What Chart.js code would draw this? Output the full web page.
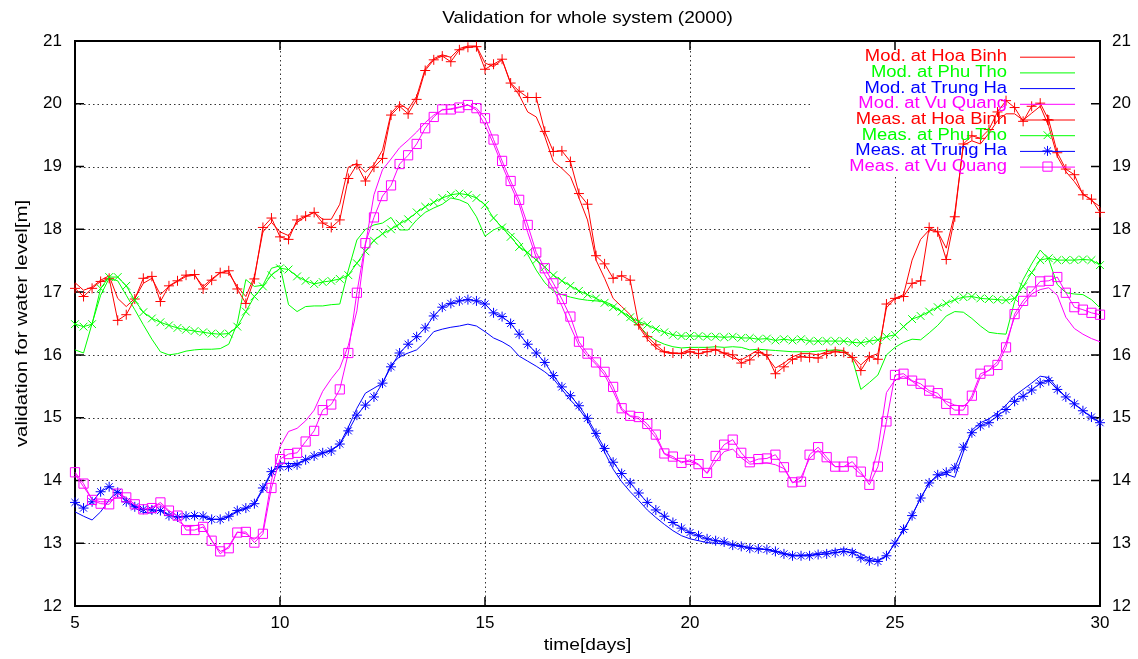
<!DOCTYPE html>
<html lang="en">
<head>
<meta charset="UTF-8">
<title>Validation for whole system (2000)</title>
<script src="https://cdn.jsdelivr.net/npm/chart.js"></script>
<style>
  body { margin: 0; background: #fff; }
</style>
</head>
<body>
<canvas id="levelChart" width="1138" height="659"></canvas>
<script>
// one sample every 5 hours, day 5 .. day 30
const STEP_HOURS = 5;
const days = [];
for (let h = 0; h <= 600; h += STEP_HOURS) days.push(5 + h / 24);

const yTicks = [12, 13, 14, 15, 16, 17, 18, 19, 20, 21];
const xTicks = [5, 10, 15, 20, 25, 30];

// model results [m]
const modHoaBinh = [
  17.15, 17.03, 17.08, 17.19, 17.26, 16.90, 16.77, 16.90, 17.14, 17.22,
  16.96, 17.09, 17.17, 17.25, 17.27, 17.09, 17.21, 17.31, 17.30, 17.09,
  16.93, 17.25, 17.96, 18.11, 17.96, 17.90, 18.11, 18.20, 18.27, 18.16,
  18.16, 18.40, 18.99, 19.05, 18.91, 19.03, 19.26, 19.85, 20.00, 19.91,
  20.12, 20.56, 20.72, 20.78, 20.74, 20.88, 20.92, 20.92, 20.65, 20.59,
  20.70, 20.32, 20.14, 19.87, 19.79, 19.48, 19.08, 18.97, 18.84, 18.50,
  18.15, 17.51, 17.22, 16.90, 16.77, 16.64, 16.45, 16.25, 16.11, 16.04,
  16.02, 16.03, 16.09, 16.08, 16.09, 16.09, 16.02, 15.95, 15.92, 16.00,
  16.08, 15.97, 15.79, 15.87, 15.97, 16.02, 16.02, 16.00, 16.05, 16.08,
  16.07, 15.97, 15.84, 15.97, 16.02, 16.75, 16.90, 16.96, 17.51, 17.84,
  17.99, 17.96, 17.70, 18.26, 19.34, 19.41, 19.36, 19.53, 19.73, 19.84,
  19.84, 19.74, 19.85, 19.96, 19.64, 19.16, 18.92, 18.76, 18.57, 18.46,
  18.36
];
const modPhuTho = [
  16.08, 16.03, 16.50, 16.95, 17.22, 17.18, 16.95, 16.72, 16.48, 16.25,
  16.05, 16.00, 16.02, 16.06, 16.08, 16.09, 16.09, 16.10, 16.17, 16.50,
  17.20, 17.09, 17.11, 17.38, 17.42, 16.80, 16.69, 16.77, 16.78, 16.78,
  16.80, 16.81, 17.35, 17.83, 18.00, 18.07, 18.10, 18.19, 17.99, 17.99,
  18.15, 18.27, 18.34, 18.40, 18.50, 18.47, 18.41, 18.20, 17.89, 17.99,
  18.05, 17.93, 17.80, 17.60, 17.35, 17.15, 17.02, 16.96, 16.92, 16.89,
  16.87, 16.86, 16.85, 16.79, 16.68, 16.56, 16.47, 16.32, 16.23, 16.17,
  16.13, 16.11, 16.12, 16.12, 16.12, 16.13, 16.12, 16.13, 16.12, 16.08,
  16.09, 16.08, 16.07, 16.06, 16.05, 16.05, 16.05, 16.06, 16.07, 16.08,
  16.06, 15.94, 15.45, 15.56, 15.68, 16.00, 16.12, 16.20, 16.25, 16.24,
  16.35, 16.47, 16.62, 16.69, 16.68, 16.58, 16.46, 16.36, 16.34, 16.33,
  16.85, 17.20, 17.45, 17.67, 17.52, 17.12, 16.99, 16.97, 16.96, 16.88,
  16.75
];
const modTrungHa = [
  13.50, 13.43, 13.37, 13.50, 13.69, 13.84, 13.69, 13.56, 13.49, 13.48,
  13.54, 13.45, 13.41, 13.42, 13.43, 13.42, 13.38, 13.38, 13.42, 13.50,
  13.55, 13.62, 13.85, 14.12, 14.28, 14.27, 14.27, 14.33, 14.39, 14.43,
  14.49, 14.58, 14.85, 15.15, 15.39, 15.47, 15.55, 15.84, 15.97, 16.03,
  16.08, 16.21, 16.37, 16.41, 16.44, 16.46, 16.49, 16.46, 16.37, 16.27,
  16.21, 16.13, 15.98, 15.90, 15.82, 15.73, 15.62, 15.45, 15.28, 15.14,
  14.95, 14.70, 14.45, 14.18, 13.98, 13.82, 13.68, 13.53, 13.41, 13.30,
  13.20, 13.12, 13.07, 13.04, 13.01, 13.00, 12.99, 12.98, 12.96, 12.93,
  12.91, 12.90, 12.87, 12.84, 12.81, 12.81, 12.82, 12.84, 12.86, 12.89,
  12.91, 12.89, 12.83, 12.76, 12.73, 12.80, 13.00, 13.20, 13.45, 13.72,
  13.95, 14.07, 14.10, 14.05, 14.45, 14.80, 14.92, 14.98, 15.08, 15.20,
  15.35, 15.45, 15.55, 15.66, 15.64, 15.47, 15.33, 15.22, 15.11, 15.01,
  14.92
];
const modVuQuang = [
  14.10, 13.90, 13.70, 13.66, 13.66, 13.74, 13.70, 13.60, 13.52, 13.58,
  13.62, 13.50, 13.36, 13.26, 13.28, 13.30, 13.05, 12.83, 12.95, 13.18,
  13.15, 13.06, 13.20, 14.00, 14.54, 14.78, 14.83, 14.95, 15.12, 15.42,
  15.62, 15.79, 16.15, 16.70, 17.75, 18.55, 18.95, 19.12, 19.30, 19.42,
  19.55, 19.70, 19.82, 19.90, 19.92, 19.95, 19.98, 19.90, 19.66, 19.36,
  19.02, 18.70, 18.40, 17.95, 17.55, 17.28, 17.05, 16.78, 16.45, 16.15,
  15.98, 15.85, 15.68, 15.42, 15.12, 15.02, 14.98, 14.85, 14.68, 14.42,
  14.35, 14.30, 14.30, 14.25, 14.11, 14.30, 14.46, 14.50, 14.36, 14.26,
  14.27, 14.28, 14.25, 14.19, 13.96, 14.05, 14.35, 14.48, 14.32, 14.22,
  14.22, 14.22, 14.10, 13.98, 14.50, 15.40, 15.60, 15.66, 15.58, 15.48,
  15.40, 15.33, 15.26, 15.20, 15.18, 15.30, 15.65, 15.76, 15.89, 16.19,
  16.60, 16.80, 16.97, 17.04, 17.07, 16.95, 16.60, 16.42, 16.33, 16.26,
  16.21
];

// measured levels [m]
const measHoaBinh = [
  17.06, 16.93, 17.06, 17.17, 17.22, 16.55, 16.64, 16.89, 17.22, 17.25,
  16.85, 17.10, 17.18, 17.27, 17.28, 17.05, 17.19, 17.31, 17.34, 17.05,
  16.82, 17.21, 18.03, 18.18, 17.88, 17.84, 18.15, 18.21, 18.27, 18.10,
  18.03, 18.15, 18.81, 19.03, 18.77, 18.99, 19.13, 19.82, 19.96, 19.84,
  20.07, 20.53, 20.70, 20.76, 20.67, 20.86, 20.90, 20.91, 20.55, 20.63,
  20.71, 20.33, 20.20, 20.10, 20.10, 19.56, 19.24, 19.25, 19.08, 18.57,
  18.40, 17.58, 17.45, 17.22, 17.26, 17.19, 16.48, 16.29, 16.16, 16.05,
  16.03, 16.02, 16.05, 16.02, 16.05, 16.08, 16.03, 16.00, 15.87, 15.92,
  16.04, 16.00, 15.70, 15.81, 15.93, 15.97, 15.96, 15.95, 16.02, 16.05,
  16.04, 15.96, 15.75, 15.97, 15.93, 16.81, 16.90, 16.93, 17.14, 17.18,
  18.03, 17.96, 17.52, 18.20, 19.36, 19.49, 19.45, 19.59, 19.87, 20.05,
  19.94, 19.72, 19.96, 20.01, 19.74, 19.22, 18.96, 18.87, 18.55, 18.48,
  18.27
];
const measPhuTho = [
  16.49, 16.45, 16.49, 17.06, 17.24, 17.24, 17.10, 16.87, 16.68, 16.58,
  16.52, 16.47, 16.43, 16.40, 16.38, 16.36, 16.34, 16.33, 16.34, 16.45,
  16.69, 16.93, 17.09, 17.27, 17.38, 17.36, 17.25, 17.18, 17.13, 17.16,
  17.18, 17.21, 17.27, 17.46, 17.65, 17.82, 17.93, 18.00, 18.09, 18.16,
  18.27, 18.36, 18.43, 18.50, 18.55, 18.57, 18.55, 18.50, 18.39, 18.18,
  18.03, 17.88, 17.72, 17.63, 17.51, 17.40, 17.27, 17.18, 17.10, 17.02,
  16.96, 16.90, 16.83, 16.76, 16.69, 16.60, 16.53, 16.48, 16.41, 16.36,
  16.32, 16.30, 16.30, 16.30, 16.29, 16.29, 16.28, 16.29, 16.27, 16.27,
  16.25, 16.26, 16.23, 16.25, 16.23, 16.25, 16.22, 16.22, 16.22, 16.22,
  16.22, 16.20, 16.19, 16.22, 16.24, 16.29, 16.32, 16.45, 16.57, 16.62,
  16.69, 16.76, 16.82, 16.88, 16.92, 16.93, 16.90, 16.89, 16.88, 16.87,
  16.90, 17.09, 17.31, 17.51, 17.54, 17.51, 17.51, 17.51, 17.52, 17.51,
  17.43
];
const measTrungHa = [
  13.65, 13.56, 13.66, 13.82, 13.90, 13.81, 13.66, 13.58, 13.54, 13.53,
  13.52, 13.44, 13.42, 13.43, 13.44, 13.43, 13.38, 13.38, 13.43, 13.52,
  13.56, 13.63, 13.88, 14.14, 14.22, 14.22, 14.25, 14.33, 14.39, 14.44,
  14.47, 14.58, 14.79, 15.04, 15.20, 15.33, 15.55, 15.81, 16.03, 16.17,
  16.29, 16.43, 16.62, 16.76, 16.82, 16.86, 16.88, 16.86, 16.81, 16.67,
  16.61, 16.50, 16.33, 16.17, 16.03, 15.88, 15.67, 15.49, 15.35, 15.19,
  14.99, 14.75, 14.51, 14.29, 14.11, 13.96, 13.80, 13.65, 13.53, 13.43,
  13.33, 13.24, 13.17, 13.12, 13.07, 13.04, 13.02, 12.97, 12.95, 12.92,
  12.91, 12.90, 12.87, 12.83, 12.80, 12.80, 12.80, 12.82, 12.83, 12.85,
  12.87, 12.85, 12.77, 12.72, 12.71, 12.80, 13.00, 13.22, 13.44, 13.72,
  13.96, 14.09, 14.13, 14.20, 14.53, 14.76, 14.87, 14.92, 15.03, 15.13,
  15.26, 15.34, 15.44, 15.55, 15.59, 15.45, 15.33, 15.22, 15.11, 15.01,
  14.92
];
const measVuQuang = [
  14.13, 13.95, 13.69, 13.63, 13.62, 13.79, 13.73, 13.62, 13.54, 13.56,
  13.65, 13.52, 13.44, 13.21, 13.21, 13.26, 13.04, 12.87, 12.92, 13.17,
  13.18, 13.01, 13.15, 13.88, 14.34, 14.42, 14.44, 14.62, 14.79, 15.12,
  15.21, 15.45, 16.03, 16.99, 17.78, 18.19, 18.53, 18.70, 19.04, 19.18,
  19.36, 19.61, 19.79, 19.91, 19.91, 19.94, 19.98, 19.93, 19.77, 19.43,
  19.09, 18.77, 18.47, 18.07, 17.63, 17.38, 17.14, 16.89, 16.61, 16.21,
  16.02, 15.88, 15.73, 15.49, 15.15, 15.03, 15.01, 14.90, 14.73, 14.43,
  14.38, 14.28, 14.33, 14.26, 14.12, 14.39, 14.57, 14.65, 14.44, 14.29,
  14.34, 14.35, 14.41, 14.21, 13.97, 13.98, 14.41, 14.53, 14.37, 14.22,
  14.22, 14.30, 14.14, 13.93, 14.22, 14.94, 15.68, 15.70, 15.59, 15.54,
  15.43, 15.39, 15.22, 15.12, 15.12, 15.35, 15.70, 15.75, 15.84, 16.12,
  16.65, 16.86, 17.01, 17.17, 17.18, 17.24, 16.99, 16.76, 16.72, 16.67,
  16.64
];

const FONT = "'Liberation Sans', Arial, Helvetica, sans-serif";
const RED = '#ff0000', GREEN = '#00ff00', BLUE = '#0000ff', MAGENTA = '#ff00ff';

function series(label, values, color, marker, radius) {
  return {
    label: label,
    data: days.map((d, i) => ({ x: d, y: values[i] })),
    borderColor: color,
    backgroundColor: color,
    borderWidth: 1,
    pointStyle: marker || 'circle',
    pointRadius: marker ? radius : 0,
    pointHoverRadius: marker ? radius : 0,
    pointBorderWidth: 1,
    pointBackgroundColor: 'rgba(0,0,0,0)',
    tension: 0,
    clip: 10
  };
}

const datasets = [
  series('Mod. at Hoa Binh', modHoaBinh, RED),
  series('Mod. at Phu Tho', modPhuTho, GREEN),
  series('Mod. at Trung Ha', modTrungHa, BLUE),
  series('Mod. at Vu Quang', modVuQuang, MAGENTA),
  series('Meas. at Hoa Binh', measHoaBinh, RED, 'cross', 5),
  series('Meas. at Phu Tho', measPhuTho, GREEN, 'crossRot', 5.5),
  series('Meas. at Trung Ha', measTrungHa, BLUE, 'star', 5),
  series('Meas. at Vu Quang', measVuQuang, MAGENTA, 'rect', 6.5)
];
// later entries are painted on top
datasets.forEach((ds, i) => { ds.order = datasets.length - i; });

function stretchText(ctx, text, x, y, size, sx, align, color) {
  ctx.save();
  ctx.font = size + 'px ' + FONT;
  ctx.fillStyle = color || '#000';
  ctx.textAlign = align;
  ctx.textBaseline = 'middle';
  ctx.translate(x, y);
  ctx.scale(sx, 1);
  ctx.fillText(text, 0, 0);
  ctx.restore();
}

// grid, frame, inward ticks, key and titles in gnuplot style
const gnuplotFrame = {
  id: 'gnuplotFrame',
  beforeDatasetsDraw(chart) {
    const ctx = chart.ctx, a = chart.chartArea;
    const xs = chart.scales.x, ys = chart.scales.y;
    const keyLeft = a.right - 288, keyBottom = a.top + 136;

    ctx.save();
    ctx.strokeStyle = '#333';
    ctx.lineWidth = 1;
    ctx.setLineDash([1.5, 3]);
    xTicks.slice(1, -1).forEach(v => {
      const px = Math.round(xs.getPixelForValue(v)) + 0.5;
      ctx.beginPath();
      ctx.moveTo(px, a.bottom);
      ctx.lineTo(px, px > keyLeft ? keyBottom : a.top);
      ctx.stroke();
    });
    yTicks.slice(1, -1).forEach(v => {
      const py = Math.round(ys.getPixelForValue(v)) + 0.5;
      ctx.beginPath();
      ctx.moveTo(a.left, py);
      ctx.lineTo(py < keyBottom ? keyLeft : a.right, py);
      ctx.stroke();
    });
    ctx.setLineDash([]);

    ctx.strokeStyle = '#000';
    ctx.lineWidth = 1.5;
    const tl = 9;
    xTicks.forEach(v => {
      const px = xs.getPixelForValue(v);
      ctx.beginPath();
      ctx.moveTo(px, a.bottom); ctx.lineTo(px, a.bottom - tl);
      ctx.moveTo(px, a.top); ctx.lineTo(px, a.top + tl);
      ctx.stroke();
    });
    yTicks.forEach(v => {
      const py = ys.getPixelForValue(v);
      ctx.beginPath();
      ctx.moveTo(a.left, py); ctx.lineTo(a.left + tl, py);
      ctx.moveTo(a.right, py); ctx.lineTo(a.right - tl, py);
      ctx.stroke();
    });
    ctx.lineWidth = 2;
    ctx.strokeRect(a.left, a.top, a.right - a.left, a.bottom - a.top);
    ctx.restore();
  },
  afterDraw(chart) {
    const ctx = chart.ctx, a = chart.chartArea;
    const midX = (a.left + a.right) / 2;

    stretchText(ctx, 'Validation for whole system (2000)', midX, 18, 17, 1.12, 'center');
    stretchText(ctx, 'time[days]', midX, 645, 17, 1.13, 'center');

    // y title, rotated; stretched along its length
    ctx.save();
    ctx.translate(22, (a.top + a.bottom) / 2);
    ctx.rotate(-Math.PI / 2);
    ctx.scale(1.2, 1);
    ctx.font = '17px ' + FONT;
    ctx.fillStyle = '#000';
    ctx.textAlign = 'center';
    ctx.textBaseline = 'middle';
    ctx.fillText('validation for water level[m]', 0, 0);
    ctx.restore();

    // key
    const textRight = a.right - 93, lineFrom = a.right - 80, lineTo = a.right - 25;
    chart.data.datasets.forEach((ds, i) => {
      const y = a.top + 15.7 + i * 15.7;
      stretchText(ctx, ds.label, textRight, y, 16, 1.15, 'right', ds.borderColor);
      ctx.save();
      ctx.strokeStyle = ds.borderColor;
      ctx.lineWidth = 1;
      ctx.beginPath();
      ctx.moveTo(lineFrom, y + 0.5);
      ctx.lineTo(lineTo, y + 0.5);
      ctx.stroke();
      if (ds.pointRadius > 0) {
        ctx.fillStyle = 'rgba(0,0,0,0)';
        Chart.helpers.drawPoint(ctx, {
          pointStyle: ds.pointStyle, rotation: 0, radius: ds.pointRadius, borderWidth: 1
        }, (lineFrom + lineTo) / 2, y);
      }
      ctx.restore();
    });
  }
};

const tickFont = { family: FONT, size: 17 };

new Chart(document.getElementById('levelChart'), {
  type: 'line',
  data: { datasets: datasets },
  options: {
    responsive: false,
    animation: false,
    events: [],
    layout: { padding: { top: 41, left: 0, right: 0, bottom: 0 } },
    plugins: {
      legend: { display: false },
      title: { display: false },
      tooltip: { enabled: false }
    },
    scales: {
      x: {
        type: 'linear', min: 5, max: 30,
        ticks: { stepSize: 5, padding: 7, color: '#000', font: tickFont, maxRotation: 0 },
        grid: { display: false, drawTicks: false },
        border: { display: false },
        afterFit: s => { s.height = 53; }
      },
      y: {
        type: 'linear', position: 'left', min: 12, max: 21,
        ticks: { stepSize: 1, padding: 13, color: '#000', font: tickFont },
        grid: { display: false, drawTicks: false },
        border: { display: false },
        afterFit: s => { s.width = 75; }
      },
      y2: {
        type: 'linear', position: 'right', min: 12, max: 21,
        ticks: { stepSize: 1, padding: 12, color: '#000', font: tickFont },
        grid: { display: false, drawTicks: false },
        border: { display: false },
        afterFit: s => { s.width = 38; }
      }
    }
  },
  plugins: [gnuplotFrame]
});
</script>
</body>
</html>
